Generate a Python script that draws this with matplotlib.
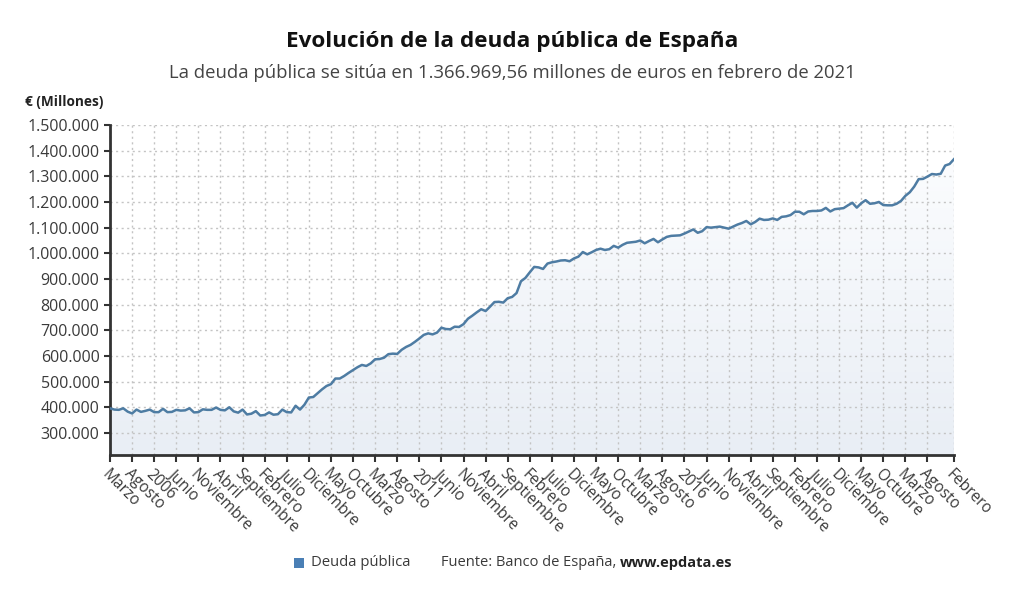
import matplotlib
matplotlib.use("Agg")
import matplotlib.patches as patches
import matplotlib.pyplot as plt
import numpy as np
from matplotlib.colors import LinearSegmentedColormap
from matplotlib.ticker import FuncFormatter

# Deuda pública mensual (miles de millones), marzo 2005 - febrero 2021
deuda_k = [
    396, 391, 390, 396, 383, 376, 391, 382, 386, 391,
    381, 381, 394, 381, 382, 390, 387, 388, 396, 380,
    381, 392, 390, 390, 399, 390, 388, 400, 384, 379,
    391, 372, 375, 385, 368, 370, 380, 371, 373, 391,
    381, 380, 406, 391, 410, 438, 440, 455, 470, 483,
    490, 512, 512, 522, 534, 545, 556, 565, 561, 571,
    587, 588, 593, 607, 609, 608, 624, 635, 643, 655,
    668, 682, 688, 684, 691, 710, 705, 704, 714, 713,
    724, 745, 757, 770, 782, 775, 792, 810, 811, 808,
    825, 830, 845, 891, 904, 926, 947, 945, 939, 960,
    965, 968, 972, 973, 969, 980, 987, 1005, 996, 1004,
    1013, 1018, 1013, 1016, 1029, 1022, 1033, 1041, 1043, 1045,
    1050, 1039, 1048, 1056, 1043, 1054, 1064, 1068, 1069, 1070,
    1077, 1085, 1093, 1080, 1086, 1102, 1100, 1102, 1104, 1100,
    1096, 1104, 1112, 1118, 1126, 1113, 1122, 1135, 1130, 1131,
    1136, 1130, 1142, 1144, 1149, 1162, 1162, 1152, 1163, 1165,
    1165, 1167, 1177, 1163, 1172, 1174, 1176, 1187, 1197, 1178,
    1195, 1207, 1193, 1195, 1200, 1188, 1187, 1187, 1193, 1204,
    1224, 1238, 1260, 1289, 1290, 1299, 1309, 1307, 1310, 1342,
    1348, 1366.96956,
]
deuda = [v * 1000 for v in deuda_k]

# Etiquetas del eje X (cada 5 meses hasta agosto 2020, más el último dato)
tick_idx = list(range(0, len(deuda) - 5, 5)) + [len(deuda) - 1]
tick_labels = [
    "Marzo", "Agosto", "2006", "Junio", "Noviembre", "Abril", "Septiembre",
    "Febrero", "Julio", "Diciembre", "Mayo", "Octubre", "Marzo", "Agosto",
    "2011", "Junio", "Noviembre", "Abril", "Septiembre", "Febrero", "Julio",
    "Diciembre", "Mayo", "Octubre", "Marzo", "Agosto", "2016", "Junio",
    "Noviembre", "Abril", "Septiembre", "Febrero", "Julio", "Diciembre",
    "Mayo", "Octubre", "Marzo", "Agosto", "Febrero",
]
y_ticks = list(range(300000, 1500001, 100000))

plt.rcParams["font.family"] = ["Open Sans", "DejaVu Sans"]

LINE = "#4e7ca3"
TXT = "#3a3a3a"
Y_MIN, Y_MAX = 214000, 1500000

fig = plt.figure(figsize=(10.24, 6.01), dpi=100)
ax = fig.add_axes([110 / 1024, 1 - 455 / 601, 844 / 1024, 330 / 601])

x = list(range(len(deuda)))
# área con degradado (más clara arriba), recortada bajo la línea
area = ax.fill_between(x, deuda, Y_MIN, facecolor="none", edgecolor="none")
grad_cmap = LinearSegmentedColormap.from_list("area", ["#e9eef5", "#fdfeff"])
img = ax.imshow(np.linspace(0, 1, 256).reshape(-1, 1), cmap=grad_cmap,
                extent=[0, len(deuda) - 1, Y_MIN, Y_MAX], origin="lower",
                aspect="auto", zorder=1)
img.set_clip_path(area.get_paths()[0], transform=ax.transData)
ax.plot(x, deuda, color=LINE, linewidth=1.8, zorder=3)

ax.set_xlim(0, len(deuda) - 1)
ax.set_ylim(Y_MIN, Y_MAX)

ax.set_yticks(y_ticks)
ax.yaxis.set_major_formatter(FuncFormatter(lambda v, _: f"{int(v):,}".replace(",", ".")))
ax.set_xticks(tick_idx)
ax.set_xticklabels(tick_labels, rotation=-45, ha="left", va="top",
                   rotation_mode="anchor", fontsize=11.2, color=TXT)
ax.tick_params(axis="y", labelsize=11.5, labelcolor=TXT, length=4, width=1.5, color="#333333")
ax.tick_params(axis="x", length=5, width=1.5, color="#333333", pad=3)

ax.set_axisbelow("line")
ax.grid(True, linestyle=(0, (1.5, 2.5)), color="#c4c4c4", linewidth=1, zorder=2)
for side in ("top", "right"):
    ax.spines[side].set_visible(False)
for side in ("left", "bottom"):
    ax.spines[side].set_color("#333333")
    ax.spines[side].set_linewidth(2)

# Títulos
fig.text(512 / 1024, 1 - 42 / 601, "Evolución de la deuda pública de España",
         ha="center", va="center", fontsize=16.2, fontweight="bold", color="#111111")
fig.text(512 / 1024, 1 - 73 / 601,
         "La deuda pública se sitúa en 1.366.969,56 millones de euros en febrero de 2021",
         ha="center", va="center", fontsize=13.3, color="#444444")
fig.text(25 / 1024, 1 - 102 / 601, "€ (Millones)", ha="left", va="center",
         fontsize=9.8, fontweight="bold", color="#222222")

# Leyenda y fuente
fig.patches.append(patches.Rectangle((294 / 1024, 1 - 568 / 601), 10 / 1024, 10 / 601,
                                     transform=fig.transFigure, facecolor="#4a7fb5",
                                     edgecolor="none"))
fig.text(311 / 1024, 1 - 563 / 601, "Deuda pública", ha="left", va="center",
         fontsize=10.7, color=TXT)
src = fig.text(441 / 1024, 1 - 563 / 601, "Fuente: Banco de España, ", ha="left",
               va="center", fontsize=10.5, color=TXT)
fig.canvas.draw()
bb = src.get_window_extent().transformed(fig.transFigure.inverted())
fig.text(bb.x1, 1 - 563 / 601, "www.epdata.es", ha="left", va="center",
         fontsize=10.5, fontweight="bold", color="#222222")

fig.savefig("out.png", dpi=100)
